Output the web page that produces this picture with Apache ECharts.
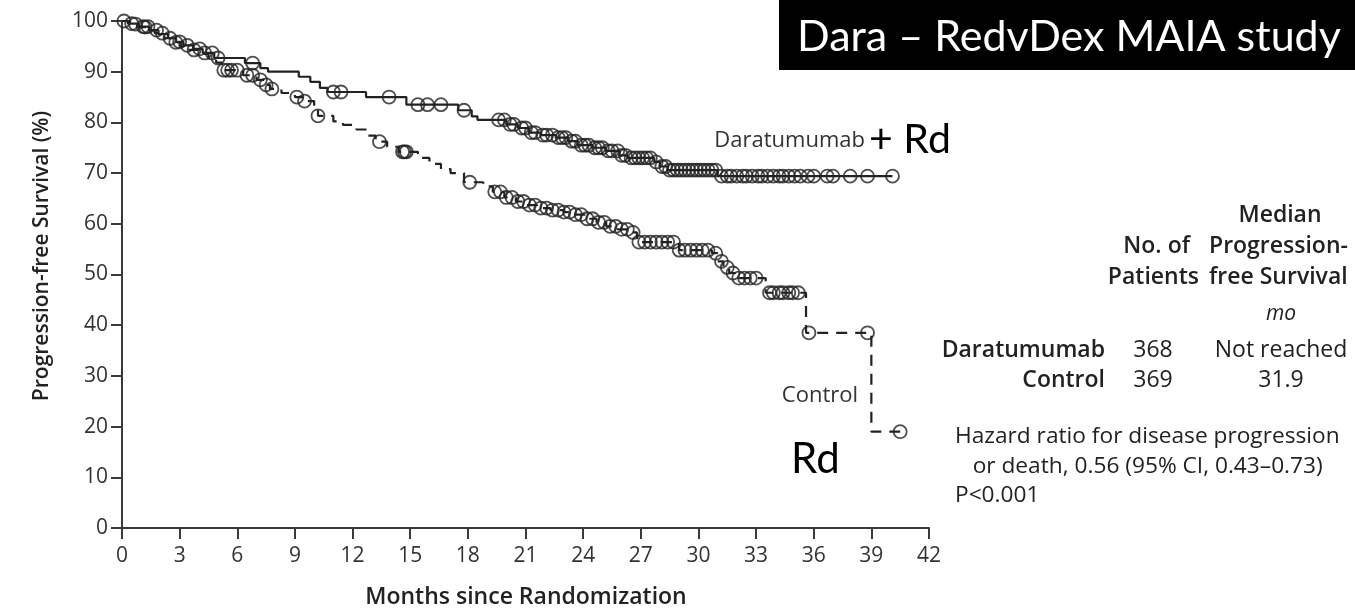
<!DOCTYPE html>
<html>
<head>
<meta charset="utf-8">
<title>Dara – RedvDex MAIA study</title>
<script src="https://cdn.jsdelivr.net/npm/echarts@6/dist/echarts.min.js"></script>
<style>
  html, body { margin: 0; padding: 0; background: #fff; }
  #chart { width: 1355px; height: 614px; }
</style>
</head>
<body>
<div id="chart"></div>
<script>
// Kaplan-Meier step points: [month, progression-free survival %]
const daraSteps = [
  [0,100],[0.3,99.5],[0.8,98.9],[1.4,98.2],[1.9,97.4],[2.4,96.6],[2.8,95.9],[3.2,95.2],
  [3.7,94.5],[4.2,93.7],[4.8,92.7],[6.4,91.7],[7.2,90.7],[7.6,90.0],[9.2,89.0],[9.8,88.0],
  [10.3,86.8],[10.7,86.0],[12.7,85.0],[14.8,83.5],[17.5,82.4],[18.2,81.2],[18.5,80.5],
  [20.0,79.6],[20.6,78.9],[21.2,78.0],[21.8,77.5],[22.6,77.0],[23.2,76.3],[23.7,75.5],
  [24.5,75.0],[25.2,74.4],[25.9,73.5],[26.3,73.0],[27.7,72.2],[28.0,71.3],[28.4,70.6],
  [31.0,69.4],[40.1,69.4]
];
const controlSteps = [
  [0,100],[0.4,99.4],[0.9,98.8],[1.4,98.2],[1.7,97.6],[2.2,96.6],[2.6,95.8],[3.0,95.0],
  [3.5,94.3],[4.0,93.5],[4.5,92.6],[4.9,91.8],[5.2,90.3],[6.3,89.3],[7.0,88.4],[7.4,87.4],
  [7.7,86.6],[8.3,85.8],[9.0,85.0],[9.4,84.2],[10.0,82.5],[10.2,81.3],[11.0,80.2],
  [11.5,79.5],[12.2,78.6],[12.8,77.4],[13.2,76.2],[13.8,75.2],[14.4,74.2],[15.4,73.0],
  [16.0,71.8],[16.6,70.8],[17.1,70.0],[17.8,68.2],[18.8,67.4],[19.3,66.3],[19.9,65.2],
  [20.5,64.4],[21.0,63.7],[21.6,63.1],[22.3,62.7],[23.0,62.3],[23.6,61.8],[24.2,61.0],
  [24.7,60.3],[25.2,59.5],[25.8,58.9],[26.4,58.3],[26.8,56.4],[29.0,54.8],[30.7,54.2],
  [31.0,52.6],[31.3,51.4],[31.6,50.3],[31.9,49.3],[33.5,46.4],[35.6,38.5],[39.0,19.0],
  [40.5,19.0]
];

// Censoring times (months), marked with open circles on each curve
const daraCensored = [
  0.1,0.5,1.1,1.35,1.8,2.5,3.0,3.4,4.05,4.3,4.7,5.0,6.8,11.0,11.4,13.9,15.4,15.9,16.6,17.8,
  19.6,19.9,20.2,20.4,20.8,21.0,21.3,21.5,21.9,22.1,22.4,22.7,22.9,23.1,23.4,23.6,23.9,
  24.1,24.3,24.6,24.8,25.0,25.3,25.5,25.8,26.0,26.2,26.5,26.7,26.9,27.1,27.3,27.5,27.8,
  28.1,28.3,28.5,28.7,28.9,29.1,29.3,29.5,29.7,29.9,30.1,30.3,30.5,30.7,30.9,31.2,31.5,
  31.7,32.0,32.3,32.5,32.8,33.1,33.3,33.6,33.9,34.2,34.4,34.7,35.0,35.3,35.7,36.0,36.7,
  37.0,37.9,38.8,40.1
];
const controlCensored = [
  0.7,1.2,2.1,2.8,3.75,5.3,5.5,5.7,6.0,6.5,6.8,7.2,7.5,7.8,9.1,9.5,10.2,13.4,14.6,14.7,
  14.8,18.1,19.4,19.7,20.0,20.3,20.6,20.9,21.2,21.5,21.8,22.1,22.4,22.7,23.0,23.3,23.6,
  23.9,24.2,24.5,24.8,25.1,25.4,25.7,26.0,26.3,26.6,26.9,27.2,27.5,27.8,28.1,28.4,28.7,
  29.0,29.3,29.6,29.9,30.2,30.5,30.9,31.2,31.5,31.8,32.1,32.4,32.7,33.0,33.7,33.9,34.2,
  34.4,34.7,34.9,35.2,35.75,38.8,40.5
];

const xTicks = [0,3,6,9,12,15,18,21,24,27,30,33,36,39,42];
const yTicks = [0,10,20,30,40,50,60,70,80,90,100];

// Summary table beside the plot
const tableRows = [
  { group: 'Daratumumab', patients: '368', median: 'Not reached' },
  { group: 'Control',     patients: '369', median: '31.9' }
];
const hazardLines = [
  'Hazard ratio for disease progression',
  '   or death, 0.56 (95% CI, 0.43\u20130.73)',
  'P<0.001'
];

// survival value of a step curve at time t
function survivalAt(steps, t) {
  let s = steps[0][1];
  for (const [time, val] of steps) { if (time <= t) s = val; else break; }
  return s;
}
const censorPoints = (steps, times) => times.map(t => [t, survivalAt(steps, t)]);

const INK = '#222';
const AXIS = '#3a3a3a';
const FONT = '"Open Sans", "Noto Sans", sans-serif';
const SLIDE = 'Lato, "Open Sans", sans-serif';

const chart = echarts.init(document.getElementById('chart'), null, { renderer: 'canvas' });

const circleStyle = { color: 'rgba(0,0,0,0)', borderColor: INK, borderWidth: 1.8 };

const txt = (text, x, y, font, opts = {}) => ({
  type: 'text',
  rotation: opts.rotation || 0,
  x: opts.rotation ? x : 0, y: opts.rotation ? y : 0,
  style: Object.assign({
    text, x: opts.rotation ? 0 : x, y: opts.rotation ? 0 : y, font,
    fill: opts.fill || INK, textAlign: opts.align || 'left', textVerticalAlign: 'middle'
  })
});

const graphics = [
  { type: 'rect', shape: { x: 779, y: 0, width: 576, height: 70 }, style: { fill: '#000' } },
  txt('Dara \u2013 RedvDex MAIA study', 797, 37, '400 43px ' + SLIDE, { fill: '#fff' }),
  txt('Daratumumab', 865, 141, '400 22px ' + FONT, { fill: '#333', align: 'right' }),
  txt('+ Rd', 869, 140, '400 41px ' + SLIDE, { fill: '#000' }),
  txt('Control', 858, 396, '400 22px ' + FONT, { fill: '#333', align: 'right' }),
  txt('Rd', 791, 459, '400 42px ' + SLIDE, { fill: '#000' }),

  // axis titles
  txt('Progression-free Survival (%)', 42, 256, '600 21px ' + FONT,
      { align: 'center', rotation: Math.PI / 2 }),
  txt('Months since Randomization', 526, 597, '600 23px ' + FONT, { align: 'center' }),

  // table header
  txt('Median', 1280, 215, '600 23px ' + FONT, { align: 'center' }),
  txt('No. of', 1190, 246, '600 23px ' + FONT, { align: 'right' }),
  txt('Progression-', 1209, 246, '600 23px ' + FONT),
  txt('Patients', 1199, 277, '600 23px ' + FONT, { align: 'right' }),
  txt('free Survival', 1209, 277, '600 23px ' + FONT),
  txt('mo', 1281, 314, 'italic 400 21px ' + FONT, { align: 'center' })
];

tableRows.forEach((row, i) => {
  const y = 350 + i * 30;
  graphics.push(
    txt(row.group, 1105, y, '600 23px ' + FONT, { align: 'right' }),
    txt(row.patients, 1153, y, '400 23px ' + FONT, { align: 'center' }),
    txt(row.median, 1281, y, '400 23px ' + FONT, { align: 'center' })
  );
});
hazardLines.forEach((line, i) => {
  graphics.push(txt(line, 955, 437 + i * 29.5, '400 22.7px ' + FONT));
});

const option = {
  animation: false,
  backgroundColor: '#fff',
  grid: { left: 122, right: 426, top: 21, bottom: 86, containLabel: false },
  xAxis: {
    type: 'value', min: 0, max: 42, interval: 3,
    axisLine: { lineStyle: { color: AXIS, width: 2 } },
    axisTick: { show: true, length: 11, inside: false, lineStyle: { color: AXIS, width: 2 } },
    axisLabel: { fontFamily: FONT, fontSize: 21, color: '#333', margin: 18,
      formatter: v => xTicks.includes(v) ? String(v) : '' },
    splitLine: { show: false }
  },
  yAxis: {
    type: 'value', min: 0, max: 100, interval: 10,
    axisLine: { show: true, lineStyle: { color: AXIS, width: 2 } },
    axisTick: { show: true, length: 11, inside: false, lineStyle: { color: AXIS, width: 2 } },
    axisLabel: { fontFamily: FONT, fontSize: 21, color: '#333', margin: 14,
      formatter: v => yTicks.includes(v) ? String(v) : '' },
    splitLine: { show: false }
  },
  series: [
    { name: 'Daratumumab', type: 'line', step: 'end', data: daraSteps, showSymbol: false,
      lineStyle: { color: INK, width: 2.2 }, z: 3 },
    { name: 'Control', type: 'line', step: 'end', data: controlSteps, showSymbol: false,
      lineStyle: { color: INK, width: 2.2, type: [11, 8] }, z: 3 },
    { name: 'Daratumumab censored', type: 'scatter', data: censorPoints(daraSteps, daraCensored),
      symbol: 'circle', symbolSize: 13, itemStyle: circleStyle, z: 4 },
    { name: 'Control censored', type: 'scatter', data: censorPoints(controlSteps, controlCensored),
      symbol: 'circle', symbolSize: 13, itemStyle: circleStyle, z: 4 }
  ],
  graphic: { elements: graphics }
};

chart.setOption(option);
</script>
</body>
</html>
